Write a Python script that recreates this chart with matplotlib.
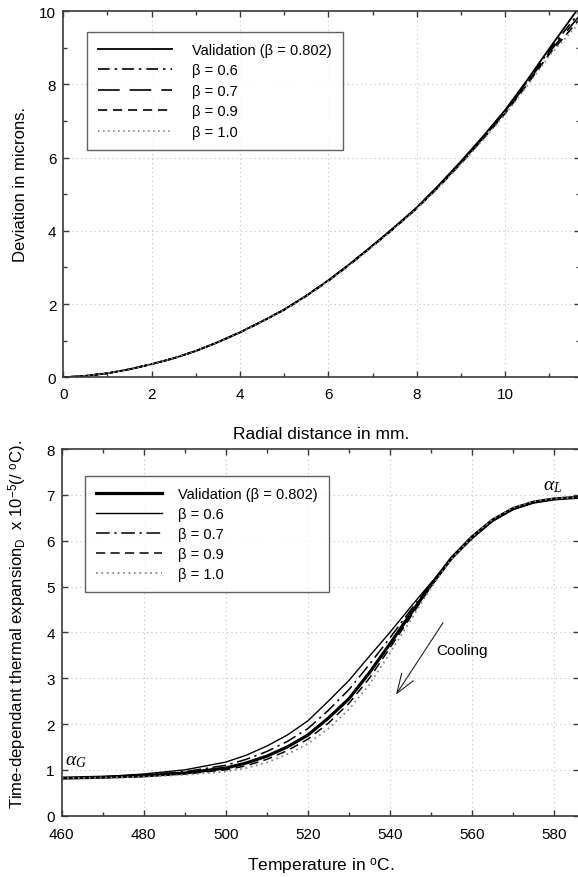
import matplotlib
matplotlib.use("Agg")
import matplotlib.pyplot as plt
from matplotlib.ticker import MultipleLocator

plt.rcParams['font.family'] = ['Liberation Sans', 'DejaVu Sans']
plt.rcParams['mathtext.fontset'] = 'custom'
plt.rcParams['mathtext.rm'] = 'Liberation Sans'
plt.rcParams['mathtext.it'] = 'Liberation Serif:italic'

# ---------------- data: top panel ----------------
radial_mm = [0, 0.5, 1, 1.5, 2, 2.5, 3, 3.5, 4, 4.5, 5, 5.5, 6, 6.5, 7, 7.5, 8, 8.5, 9, 9.5, 10, 10.5, 11, 11.7]
dev_validation = [0, 0.04, 0.11, 0.22, 0.36, 0.52, 0.72, 0.96, 1.23, 1.53, 1.85, 2.23, 2.65, 3.11, 3.60, 4.11, 4.64, 5.25, 5.90, 6.58, 7.30, 8.12, 8.98, 10.15]
dev_b06 = [0, 0.04, 0.11, 0.22, 0.36, 0.52, 0.72, 0.96, 1.23, 1.53, 1.85, 2.23, 2.65, 3.11, 3.60, 4.10, 4.63, 5.23, 5.88, 6.56, 7.27, 8.08, 8.93, 10.00]
dev_b07 = [0, 0.04, 0.11, 0.22, 0.36, 0.52, 0.72, 0.96, 1.23, 1.53, 1.85, 2.22, 2.64, 3.10, 3.59, 4.09, 4.62, 5.22, 5.86, 6.53, 7.24, 8.04, 8.88, 9.90]
dev_b09 = [0, 0.04, 0.11, 0.22, 0.36, 0.52, 0.72, 0.96, 1.22, 1.52, 1.84, 2.22, 2.63, 3.09, 3.58, 4.08, 4.61, 5.20, 5.84, 6.51, 7.21, 8.00, 8.83, 9.80]
dev_b10 = [0, 0.04, 0.11, 0.22, 0.36, 0.52, 0.72, 0.96, 1.22, 1.52, 1.84, 2.21, 2.63, 3.08, 3.57, 4.07, 4.60, 5.19, 5.82, 6.48, 7.18, 7.96, 8.78, 9.70]
top_labels = ["Validation (\u03b2 = 0.802)", "\u03b2 = 0.6", "\u03b2 = 0.7", "\u03b2 = 0.9", "\u03b2 = 1.0"]

# ---------------- data: bottom panel ----------------
temp_c = [460, 470, 480, 490, 500, 505, 510, 515, 520, 525, 530, 535, 540, 545, 550, 555, 560, 565, 570, 575, 580, 586.5]
alpha_validation = [0.82, 0.84, 0.87, 0.93, 1.04, 1.15, 1.30, 1.50, 1.76, 2.13, 2.55, 3.12, 3.75, 4.40, 5.03, 5.62, 6.08, 6.45, 6.70, 6.84, 6.91, 6.95]
alpha_b06 = [0.82, 0.85, 0.91, 1.00, 1.17, 1.32, 1.52, 1.76, 2.07, 2.50, 2.95, 3.48, 4.00, 4.55, 5.08, 5.60, 6.04, 6.42, 6.68, 6.83, 6.90, 6.95]
alpha_b07 = [0.82, 0.845, 0.89, 0.96, 1.10, 1.23, 1.40, 1.62, 1.90, 2.30, 2.75, 3.30, 3.88, 4.48, 5.06, 5.61, 6.06, 6.44, 6.69, 6.84, 6.91, 6.95]
alpha_b09 = [0.82, 0.835, 0.86, 0.91, 1.00, 1.09, 1.23, 1.42, 1.67, 2.02, 2.45, 3.00, 3.66, 4.33, 5.00, 5.61, 6.08, 6.46, 6.71, 6.85, 6.92, 6.95]
alpha_b10 = [0.82, 0.83, 0.85, 0.89, 0.96, 1.04, 1.16, 1.34, 1.57, 1.90, 2.32, 2.86, 3.55, 4.26, 4.97, 5.60, 6.08, 6.47, 6.72, 6.86, 6.92, 6.95]
bot_labels = ["Validation (\u03b2 = 0.802)", "\u03b2 = 0.6", "\u03b2 = 0.7", "\u03b2 = 0.9", "\u03b2 = 1.0"]

W, H = 578, 878
fig = plt.figure(figsize=(W / 100, H / 100), dpi=100)

spine_col = '#3a3a3a'
grid_kw = dict(color='#c4c4c4', lw=0.8, ls=(0, (1, 3)))


def style_axes(ax):
    for s in ax.spines.values():
        s.set_color(spine_col)
        s.set_linewidth(1.2)
    ax.tick_params(which='both', direction='in', top=True, right=True,
                   colors=spine_col, labelcolor='black', labelsize=11)
    ax.tick_params(which='major', length=4, width=1.0)
    ax.tick_params(which='minor', length=3, width=1.0)
    ax.grid(True, which='major', **grid_kw)
    ax.set_axisbelow(True)


# ---------- top axes ----------
l1, r1, t1, b1 = 63.3, 579.5, 12.0, 378.3
ax1 = fig.add_axes([l1 / W, 1 - b1 / H, (r1 - l1) / W, (b1 - t1) / H])
style_axes(ax1)
ax1.set_xlim(0, 11.68)
ax1.set_ylim(0, 10)
ax1.xaxis.set_major_locator(MultipleLocator(2))
ax1.xaxis.set_minor_locator(MultipleLocator(1))
ax1.yaxis.set_major_locator(MultipleLocator(2))
ax1.yaxis.set_minor_locator(MultipleLocator(1))
ax1.tick_params(axis='x', which='major', pad=7)
ax1.tick_params(axis='y', which='major', pad=5)

ax1.plot(radial_mm, dev_validation, color='black', lw=1.3, ls='-', label=top_labels[0])
ax1.plot(radial_mm, dev_b06, color='black', lw=1.2, ls=(0, (7, 3, 1.5, 3)), label=top_labels[1])
ax1.plot(radial_mm, dev_b07, color='black', lw=1.2, ls=(0, (13, 6)), label=top_labels[2])
ax1.plot(radial_mm, dev_b09, color='black', lw=1.2, ls=(0, (5.5, 3.5)), label=top_labels[3])
ax1.plot(radial_mm, dev_b10, color='#8a8a8a', lw=1.2, ls=(0, (1, 2)), label=top_labels[4])

ax1.set_xlabel("Radial distance in mm.", fontsize=12.5, labelpad=18)
ax1.set_ylabel("Deviation in microns.", fontsize=12)
ax1.yaxis.set_label_coords((28 - l1) / (r1 - l1), 0.53)

leg1 = ax1.legend(loc='upper left',
                  bbox_to_anchor=((87 - l1) / (r1 - l1), 1 - (33 - t1) / (b1 - t1)),
                  fontsize=10.5, frameon=True, fancybox=False, handlelength=5.1,
                  handletextpad=1.35, labelspacing=0.44, borderpad=0.75,
                  borderaxespad=0.0)
leg1.get_frame().set_edgecolor(spine_col)
leg1.get_frame().set_linewidth(1.0)

# ---------- bottom axes ----------
l2, r2, t2, b2 = 61.7, 579.5, 450.0, 816.7
ax2 = fig.add_axes([l2 / W, 1 - b2 / H, (r2 - l2) / W, (b2 - t2) / H])
style_axes(ax2)
ax2.set_xlim(460, 586.2)
ax2.set_ylim(0, 8)
ax2.xaxis.set_major_locator(MultipleLocator(20))
ax2.xaxis.set_minor_locator(MultipleLocator(10))
ax2.yaxis.set_major_locator(MultipleLocator(1))
ax2.tick_params(axis='x', which='major', pad=8)
ax2.tick_params(axis='y', which='major', pad=5)

ax2.plot(temp_c, alpha_validation, color='black', lw=2.3, ls='-', label=bot_labels[0])
ax2.plot(temp_c, alpha_b06, color='black', lw=1.0, ls='-', label=bot_labels[1])
ax2.plot(temp_c, alpha_b07, color='black', lw=1.1, ls=(0, (9, 3, 1.5, 3)), label=bot_labels[2])
ax2.plot(temp_c, alpha_b09, color='black', lw=1.1, ls=(0, (6, 3.5)), label=bot_labels[3])
ax2.plot(temp_c, alpha_b10, color='#8a8a8a', lw=1.3, ls=(0, (1, 2)), label=bot_labels[4])

ax2.text(460.8, 1.02, r'$\alpha_G$', fontsize=14, ha='left', va='bottom')
ax2.text(577.3, 7.02, r'$\alpha_L$', fontsize=14, ha='left', va='bottom')

ax2.annotate('', xy=(541.1, 2.59), xytext=(553.3, 4.26),
             arrowprops=dict(arrowstyle='->,head_length=1.4,head_width=0.5',
                             color='#222222', lw=0.8))
ax2.text(551.3, 3.62, 'Cooling', fontsize=11, ha='left', va='center')

ax2.set_xlabel(r"Temperature in $^{\mathrm{o}}$C.", fontsize=12.5, labelpad=11)
ax2.set_ylabel(r"Time-dependant thermal expansion$_{\mathrm{D}}$  x 10$^{\mathrm{-5}}$(/ $^{\mathrm{o}}$C).",
               fontsize=12)
ax2.yaxis.set_label_coords((29 - l2) / (r2 - l2), 0.525)

leg2 = ax2.legend(loc='upper left',
                  bbox_to_anchor=((85 - l2) / (r2 - l2), 1 - (476.7 - t2) / (b2 - t2)),
                  fontsize=10.5, frameon=True, fancybox=False, handlelength=4.5,
                  handletextpad=1.15, labelspacing=0.42, borderpad=0.75,
                  borderaxespad=0.0)
leg2.get_frame().set_edgecolor(spine_col)
leg2.get_frame().set_linewidth(1.0)

fig.savefig('out.png', dpi=100)
